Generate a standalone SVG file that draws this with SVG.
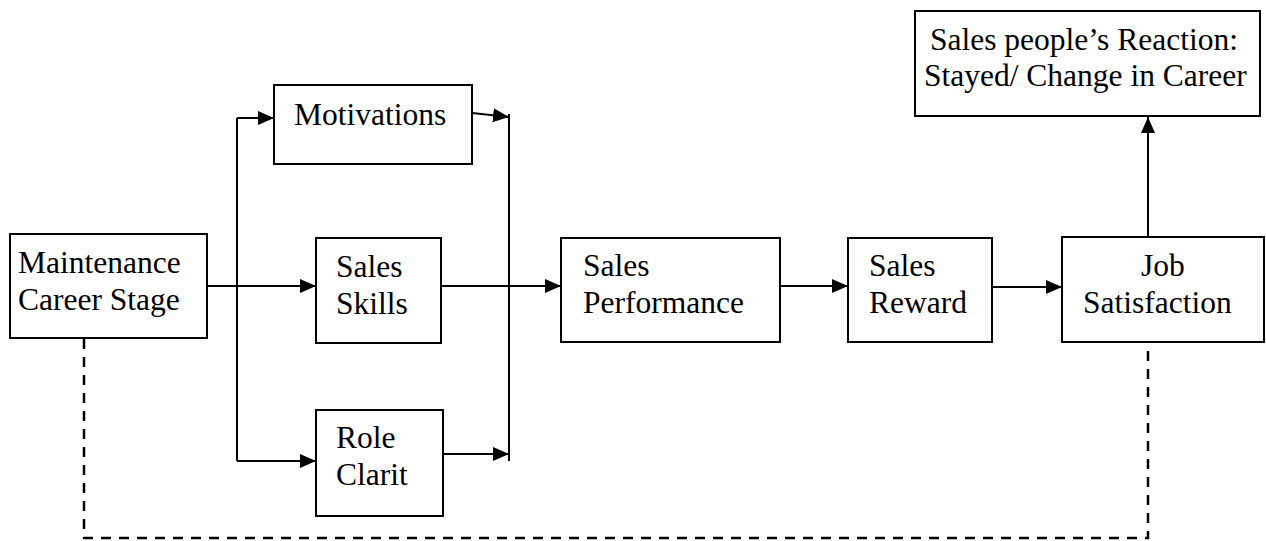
<svg xmlns="http://www.w3.org/2000/svg" width="1266" height="541" viewBox="0 0 1266 541">
<style>
  .box { fill: #ffffff; stroke: #000000; stroke-width: 2; }
  .t { font-family: "Liberation Serif", "Times New Roman", serif; font-size: 31.5px; fill: #000000; }
  .ln { fill: none; stroke: #000000; stroke-width: 2; }
  .ar { fill: none; stroke: #000000; stroke-width: 2; marker-end: url(#ah); }
  .dash { fill: none; stroke: #000000; stroke-width: 2.5; stroke-dasharray: 10 8; }
</style>
<defs>
  <marker id="ah" viewBox="0 0 16 14" refX="16" refY="7" markerWidth="16" markerHeight="14" markerUnits="userSpaceOnUse" orient="auto">
    <path d="M0,0 L16,7 L0,14 Z" fill="#000000"/>
  </marker>
</defs>
<rect width="1266" height="541" fill="#ffffff"/>

<g id="connectors">
  <line class="ar" x1="207" y1="286" x2="316" y2="286"/>
  <line class="ln" x1="237" y1="118" x2="237" y2="461"/>
  <line class="ar" x1="237" y1="118" x2="274" y2="118"/>
  <line class="ar" x1="237" y1="461" x2="316" y2="461"/>
  <line class="ar" x1="472" y1="113" x2="509" y2="117"/>
  <line class="ln" x1="509" y1="114" x2="509" y2="461"/>
  <line class="ar" x1="441" y1="286" x2="561" y2="286"/>
  <line class="ar" x1="443" y1="454" x2="509" y2="454"/>
  <line class="ar" x1="780" y1="286" x2="848" y2="286"/>
  <line class="ar" x1="992" y1="287" x2="1062" y2="287"/>
  <line class="ar" x1="1148" y1="237" x2="1148" y2="117"/>
  <polyline class="dash" points="84,339 84,538 1148,538 1148,343"/>
</g>

<g id="maintenance">
  <rect class="box" x="10" y="234" width="197" height="104"/>
  <text class="t" x="18" y="273">Maintenance</text>
  <text class="t" x="18" y="310">Career Stage</text>
</g>
<g id="motivations">
  <rect class="box" x="274" y="85" width="198" height="79"/>
  <text class="t" x="294" y="125">Motivations</text>
</g>
<g id="sales-skills">
  <rect class="box" x="316" y="238" width="125" height="105"/>
  <text class="t" x="336" y="277">Sales</text>
  <text class="t" x="336" y="314">Skills</text>
</g>
<g id="role-clarit">
  <rect class="box" x="316" y="410" width="127" height="106"/>
  <text class="t" x="336" y="448">Role</text>
  <text class="t" x="336" y="485">Clarit</text>
</g>
<g id="sales-performance">
  <rect class="box" x="561" y="238" width="219" height="104"/>
  <text class="t" x="583" y="276">Sales</text>
  <text class="t" x="583" y="313">Performance</text>
</g>
<g id="sales-reward">
  <rect class="box" x="848" y="238" width="144" height="104"/>
  <text class="t" x="869" y="276">Sales</text>
  <text class="t" x="869" y="313">Reward</text>
</g>
<g id="job-satisfaction">
  <rect class="box" x="1062" y="237" width="202" height="105"/>
  <text class="t" x="1141" y="276">Job</text>
  <text class="t" x="1083" y="313">Satisfaction</text>
</g>
<g id="reaction">
  <rect class="box" x="915" y="11" width="345" height="105"/>
  <text class="t" x="930" y="50">Sales people’s Reaction:</text>
  <text class="t" x="924" y="86">Stayed/ Change in Career</text>
</g>
</svg>
